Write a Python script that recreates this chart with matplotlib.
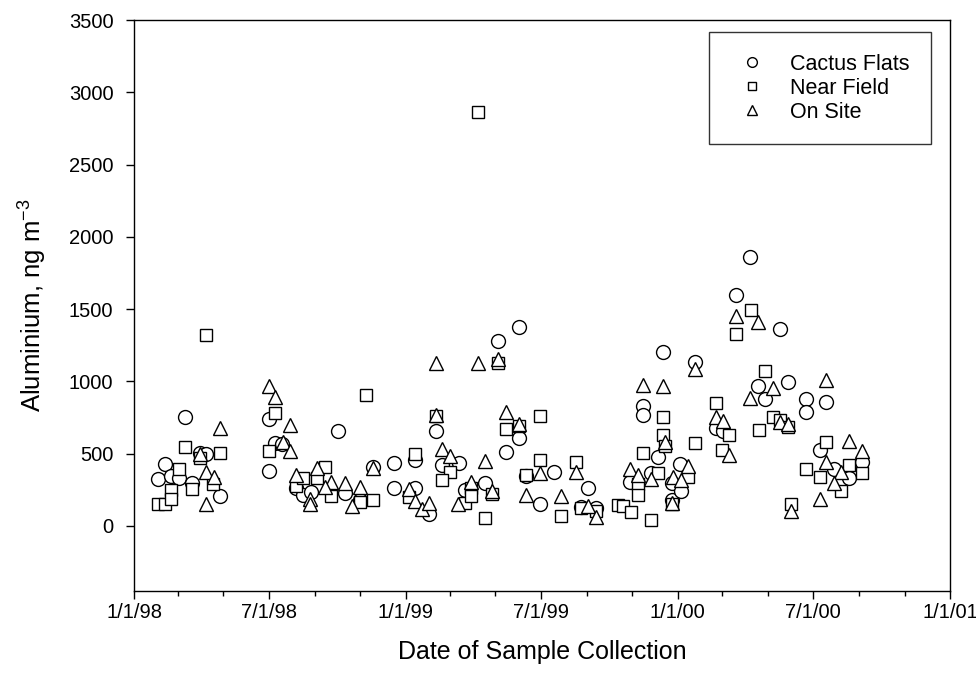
import pandas as pd
import matplotlib.pyplot as plt
import matplotlib.dates as mdates
from matplotlib.ticker import FuncFormatter

plt.rcParams['font.family'] = ['Liberation Sans', 'DejaVu Sans']
plt.rcParams['mathtext.default'] = 'regular'

# Cactus Flats
cf_dates = ['1998-02-02', '1998-02-11', '1998-02-20', '1998-03-02', '1998-03-11', '1998-03-20',
            '1998-03-30', '1998-04-08', '1998-04-27', '1998-07-01', '1998-07-01', '1998-07-10',
            '1998-07-19', '1998-08-07', '1998-08-16', '1998-08-27', '1998-10-02', '1998-10-12',
            '1998-10-31', '1998-11-18', '1998-12-16', '1998-12-16', '1999-01-14', '1999-01-14',
            '1999-02-01', '1999-02-10', '1999-02-19', '1999-03-13', '1999-03-21', '1999-04-17',
            '1999-05-05', '1999-05-16', '1999-06-02', '1999-06-02', '1999-06-12', '1999-06-30',
            '1999-07-19', '1999-08-25', '1999-09-03', '1999-09-14', '1999-10-29', '1999-11-27',
            '1999-12-06', '1999-12-24', '1999-12-25', '2000-01-04', '2000-01-06', '1999-11-16',
            '1999-11-16', '1999-12-13', '2000-02-21', '2000-03-02', '2000-01-24', '2000-04-18',
            '2000-04-28', '2000-05-28', '2000-03-20', '2000-04-07', '2000-05-18', '2000-06-21',
            '2000-06-21', '2000-07-19', '2000-07-10', '2000-09-05', '2000-08-18', '2000-07-29']
cf_vals = [325, 427, 348, 334, 752, 300, 503, 496, 208, 740, 380, 576,
           567, 261, 214, 237, 659, 230, 180, 410, 434, 261, 457, 261,
           83, 657, 422, 434, 249, 300, 1282, 514, 1374, 611, 346, 150,
           376, 134, 261, 122, 306, 364, 480, 295, 180, 429, 244, 830,
           768, 1206, 676, 657, 1132, 968, 878, 998, 1598, 1861, 1363, 876,
           790, 860, 526, 445, 330, 392]

# Near Field
nf_dates = ['1998-02-02', '1998-02-12', '1998-02-20', '1998-02-20', '1998-03-02', '1998-03-11',
            '1998-03-20', '1998-03-30', '1998-04-08', '1998-04-17', '1998-04-27', '1998-07-01',
            '1998-07-10', '1998-11-09', '1998-08-07', '1998-08-16', '1998-09-04', '1998-09-14',
            '1998-09-23', '1998-10-31', '1998-11-18', '1999-01-14', '1999-01-05', '1999-02-10',
            '1999-03-01', '1999-02-19', '1999-03-21', '1999-03-30', '1999-03-30', '1999-04-08',
            '1999-04-17', '1999-04-27', '1999-05-05', '1999-05-15', '1999-06-02', '1999-06-30',
            '1999-06-30', '1999-06-12', '1999-08-17', '1999-07-28', '1999-08-25', '1999-09-14',
            '1999-10-13', '1999-10-20', '1999-10-30', '1999-11-26', '1999-11-16', '1999-11-09',
            '1999-11-09', '1999-12-06', '2000-01-15', '1999-12-25', '1999-12-13', '1999-12-13',
            '1999-12-15', '2000-02-21', '2000-03-10', '2000-03-01', '2000-01-24', '2000-04-19',
            '2000-04-28', '2000-04-09', '2000-03-20', '2000-05-08', '2000-05-18', '2000-05-28',
            '2000-07-19', '2000-06-21', '2000-07-10', '2000-08-08', '2000-09-05', '2000-08-18',
            '2000-06-02']
nf_vals = [150, 150, 249, 185, 392, 549, 254, 468, 1321, 288, 503, 521,
           780, 906, 277, 330, 330, 410, 208, 164, 180, 498, 203, 760,
           376, 318, 157, 261, 208, 2861, 53, 222, 1125, 669, 692, 763,
           457, 353, 445, 69, 122, 100, 145, 140, 99, 41, 503, 290,
           214, 369, 339, 150, 756, 629, 553, 853, 629, 526, 572, 664,
           1074, 1494, 1326, 752, 733, 684, 583, 392, 341, 244, 369, 422,
           152]

# On Site
os_dates = ['1998-04-08', '1998-03-30', '1998-04-08', '1998-04-18', '1998-04-27', '1998-07-01',
            '1998-07-10', '1998-07-29', '1998-07-20', '1998-07-29', '1998-08-07', '1998-08-26',
            '1998-08-26', '1998-09-04', '1998-09-23', '1998-09-14', '1998-10-12', '1998-10-31',
            '1998-10-21', '1998-11-18', '1999-02-10', '1999-04-08', '1999-05-05', '1999-02-10',
            '1999-05-15', '1999-06-02', '1999-02-19', '1999-03-01', '1999-04-17', '1999-01-05',
            '1999-01-14', '1999-01-23', '1999-02-01', '1999-03-12', '1999-03-30', '1999-04-27',
            '1999-06-12', '1999-06-30', '1999-08-17', '1999-07-28', '1999-09-03', '1999-09-14',
            '1999-10-29', '1999-11-09', '1999-11-27', '2000-01-15', '1999-12-26', '2000-01-06',
            '1999-12-25', '1999-11-16', '1999-12-13', '1999-12-15', '2000-01-24', '2000-02-21',
            '2000-03-02', '2000-03-10', '2000-03-20', '2000-04-18', '2000-04-07', '2000-05-08',
            '2000-05-18', '2000-05-28', '2000-07-19', '2000-07-19', '2000-07-10', '2000-06-02',
            '2000-08-18', '2000-09-05', '2000-08-08', '2000-07-29']
os_vals = [150, 498, 376, 341, 680, 970, 895, 699, 583, 519, 353, 187,
           155, 399, 306, 272, 295, 272, 138, 400, 1125, 1125, 1153, 768,
           791, 706, 530, 484, 450, 254, 175, 118, 157, 152, 306, 242,
           214, 364, 376, 210, 140, 64, 394, 353, 323, 415, 341, 318,
           161, 975, 968, 583, 1084, 756, 728, 491, 1455, 1413, 883, 952,
           722, 706, 1010, 445, 185, 106, 590, 521, 376, 300]

fig = plt.figure(figsize=(9.76, 6.86), dpi=100)
ax = fig.add_axes([0.1373, 0.1385, 0.8361, 0.8323])

style = dict(linestyle='none', markerfacecolor='white', markeredgecolor='black', markeredgewidth=1.0)
ax.plot(pd.to_datetime(cf_dates), cf_vals, marker='o', markersize=10, label='Cactus Flats', **style)
ax.plot(pd.to_datetime(nf_dates), nf_vals, marker='s', markersize=9, label='Near Field', **style)
ax.plot(pd.to_datetime(os_dates), os_vals, marker='^', markersize=10, label='On Site', **style)

ax.set_xlim(pd.Timestamp('1998-01-01'), pd.Timestamp('2001-01-01'))
ax.set_ylim(-450, 3500)
ax.set_yticks(range(0, 3501, 500))

ax.xaxis.set_major_locator(mdates.MonthLocator(bymonth=[1, 7]))
ax.xaxis.set_minor_locator(mdates.MonthLocator(bymonth=[3, 5, 9, 11]))
ax.xaxis.set_major_formatter(FuncFormatter(
    lambda v, pos: '{}/{}/{}'.format(mdates.num2date(v).month, mdates.num2date(v).day,
                                     mdates.num2date(v).strftime('%y'))))

ax.tick_params(which='major', direction='out', length=5.8, width=1, labelsize=14.5)
ax.tick_params(which='minor', direction='out', length=3.6, width=1)
ax.tick_params(axis='x', pad=2.5)
ax.tick_params(axis='y', pad=9)
for s in ax.spines.values():
    s.set_linewidth(1)

ax.set_xlabel('Date of Sample Collection', fontsize=18, labelpad=13)
ax.set_ylabel('Aluminium, ng m$^{-3}$', fontsize=18.5, labelpad=14)

leg = ax.legend(loc='upper right', bbox_to_anchor=(0.9767, 0.979), borderaxespad=0,
                fontsize=15.5, markerscale=0.7, frameon=True, fancybox=False,
                edgecolor='black', borderpad=1.0, handletextpad=0.75, labelspacing=0.14)
leg.get_frame().set_linewidth(1)

plt.savefig('out.png', dpi=100)
